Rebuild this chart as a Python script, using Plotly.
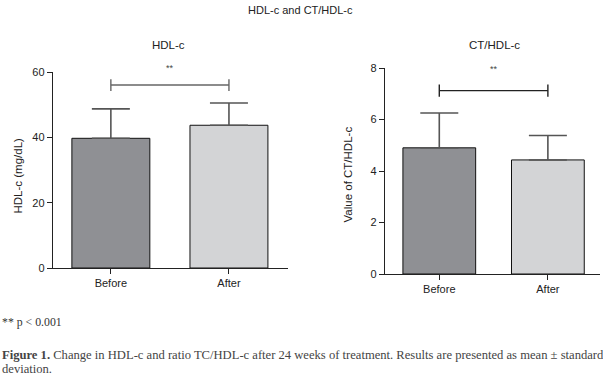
import plotly.graph_objects as go

categories = ["Before", "After"]
hdl_mean = [39.7, 43.7]
hdl_sd = [9.0, 6.8]
ratio_mean = [4.9, 4.43]
ratio_sd = [1.35, 0.95]
hdl_ticks = [0, 20, 40, 60]
ratio_ticks = [0, 2, 4, 6, 8]
hdl_bracket = 56
ratio_bracket = 7.12
bar_colors = ["#8f9094", "#d3d4d6"]

SANS = "Liberation Sans Narrow, Arial Narrow, Liberation Sans, Arial, sans-serif"
SERIF = "Liberation Serif, Times New Roman, serif"
W, H = 603, 377

fig = go.Figure()
xs = [0, 1]

fig.add_trace(go.Bar(
    x=xs, y=hdl_mean, width=0.66, marker=dict(color=bar_colors, line=dict(color="#111", width=1)),
    error_y=dict(type="data", array=hdl_sd, arrayminus=[0, 0], symmetric=False,
                 color="#555", thickness=1.6, width=19),
    xaxis="x", yaxis="y", showlegend=False))
fig.add_trace(go.Bar(
    x=xs, y=ratio_mean, width=0.67, marker=dict(color=bar_colors, line=dict(color="#111", width=1)),
    error_y=dict(type="data", array=ratio_sd, arrayminus=[0, 0], symmetric=False,
                 color="#555", thickness=1.6, width=19),
    xaxis="x2", yaxis="y2", showlegend=False))

def px_x(p):
    return p / W

def px_y(p):
    return (H - p) / H

axfont = dict(family=SANS, size=11, color="#222")
common_x = dict(tickmode="array", tickvals=xs, ticktext=categories, showline=True, linecolor="#222",
                linewidth=1.2, ticks="outside", ticklen=5, tickcolor="#222", showgrid=False,
                zeroline=False, tickfont=axfont, fixedrange=True, automargin=False)
common_y = dict(showline=True, linecolor="#222", linewidth=1.2, ticks="outside", ticklen=5,
                tickcolor="#222", showgrid=False, zeroline=False, tickfont=axfont, automargin=False)

fig.update_layout(
    template="none",
    width=W, height=H, margin=dict(l=0, r=0, t=0, b=0, pad=0), autosize=False,
    paper_bgcolor="white", plot_bgcolor="white", bargap=0,
    xaxis=dict(common_x, domain=[px_x(53), px_x(288)], range=[-0.49, 1.5], anchor="y"),
    yaxis=dict(common_y, domain=[px_y(268), px_y(72)], range=[0, 60], tickvals=hdl_ticks, anchor="x"),
    xaxis2=dict(common_x, domain=[px_x(385), px_x(600)], range=[-0.5, 1.48], anchor="y2"),
    yaxis2=dict(common_y, domain=[px_y(274), px_y(68)], range=[0, 8], tickvals=ratio_ticks, anchor="x2"),
)

# significance brackets
for xr, yr, yb, cap, col, shift in [("x", "y", hdl_bracket, 1.8, "#666", 17),
                                    ("x2", "y2", ratio_bracket, 0.24, "#222", 21.5)]:
    fig.add_shape(type="line", xref=xr, yref=yr, x0=xs[0], x1=xs[1], y0=yb, y1=yb,
                  line=dict(color=col, width=1.4))
    for xv in xs:
        fig.add_shape(type="line", xref=xr, yref=yr, x0=xv, x1=xv, y0=yb - cap, y1=yb + cap,
                      line=dict(color=col, width=1.4))
    fig.add_annotation(xref=xr, yref=yr, x=0.5, y=yb, text="**", showarrow=False, yanchor="middle",
                       yshift=shift, font=dict(family=SANS, size=9, color="#444"))

def ann(x, y, text, font, xanchor="center", angle=0):
    fig.add_annotation(xref="paper", yref="paper", x=px_x(x), y=px_y(y), text=text, showarrow=False,
                       xanchor=xanchor, yanchor="middle", font=font, textangle=angle)

tfont = dict(family=SANS, size=11, color="#222")
ann(300, 10, "HDL-c and CT/HDL-c", tfont)
ann(168, 45, "HDL-c", dict(family=SANS, size=11.5, color="#222"))
ann(494, 45, "CT/HDL-c", dict(family=SANS, size=11.5, color="#222"))
ann(17.5, 176, "HDL-c (mg/dL)", dict(family=SANS, size=11.5, color="#222"), angle=-90)
ann(347.5, 175, "Value of CT/HDL-c", dict(family=SANS, size=11.5, color="#222"), angle=-90)

ann(0, 322, "** p &lt; 0.001", dict(family=SERIF, size=11.8, color="#333"), "left")
ann(0, 355, "<b>Figure 1.</b> Change in HDL-c and ratio TC/HDL-c after 24 weeks of treatment. Results are presented as mean ± standard",
    dict(family=SERIF, size=12.6, color="#444"), "left")
ann(0, 369, "deviation.", dict(family=SERIF, size=12.6, color="#444"), "left")

fig.write_html("out.html", config={"displayModeBar": False, "staticPlot": True},
               post_script="document.body.style.margin='0px';")
